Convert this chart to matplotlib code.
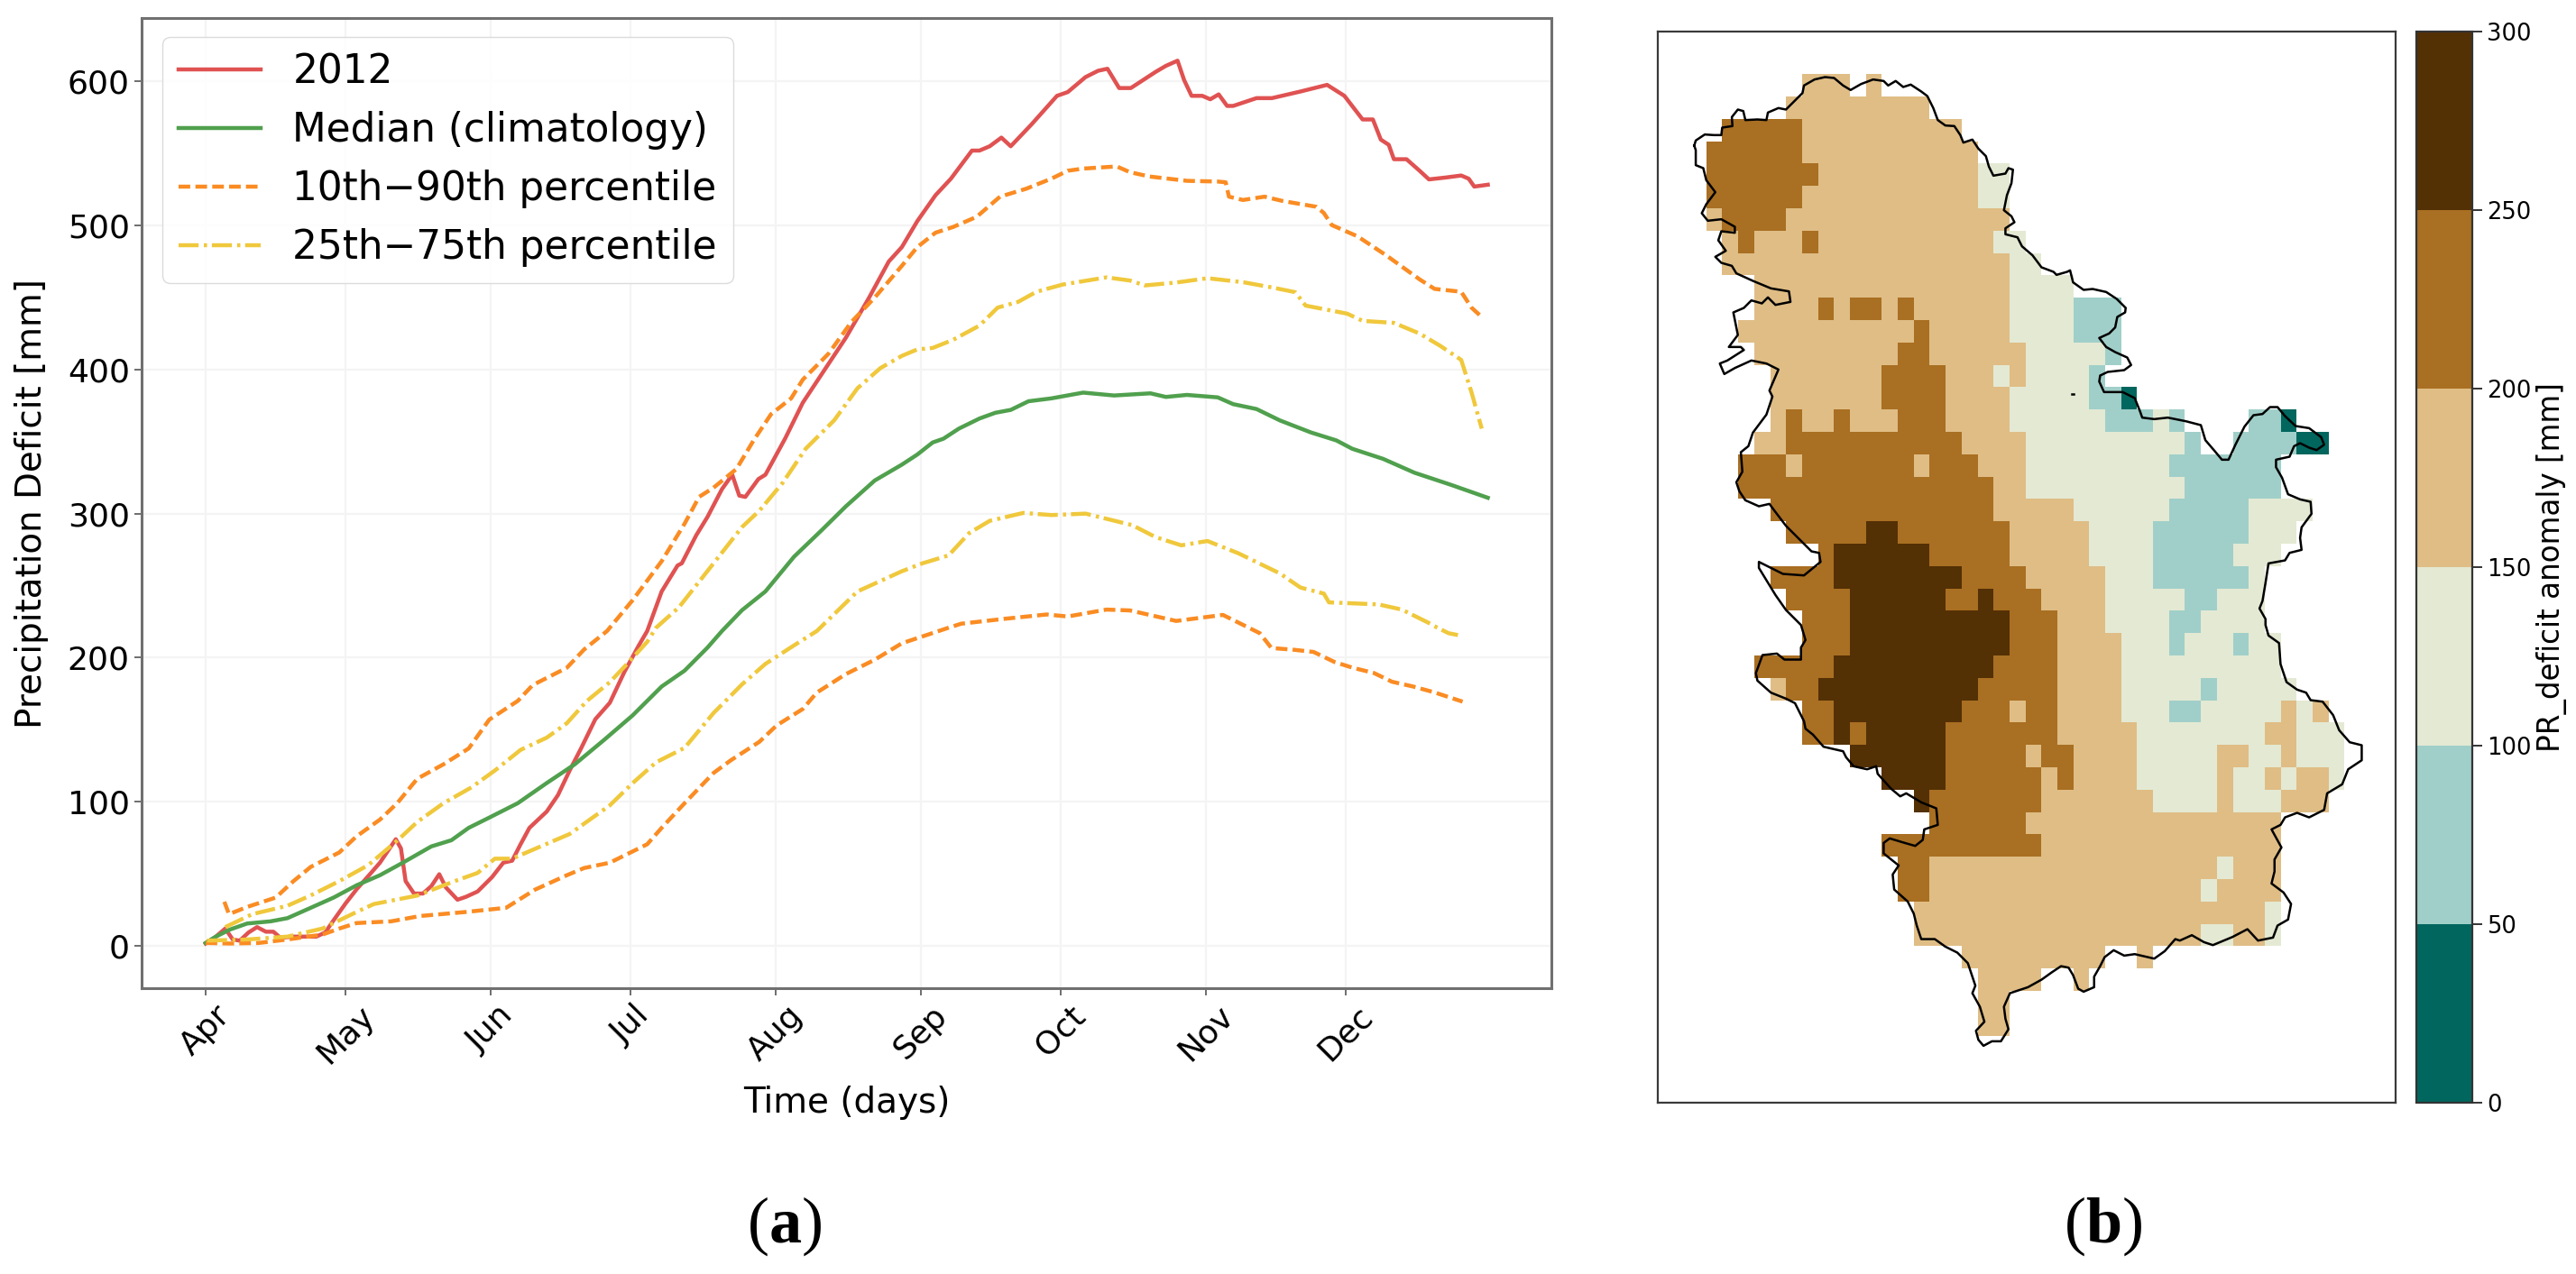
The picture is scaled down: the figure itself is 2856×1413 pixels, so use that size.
"""Precipitation deficit curves for 2012 and the map of the deficit anomaly."""
import numpy as np
import matplotlib
matplotlib.use('Agg')
import matplotlib.pyplot as plt
from matplotlib.colors import BoundaryNorm, ListedColormap

FIG_W, FIG_H = 2856, 1413

# panel (a): days since 1 April
month_days = [0, 30, 61, 91, 122, 153, 183, 214, 244]
month_names = ['Apr', 'May', 'Jun', 'Jul', 'Aug', 'Sep', 'Oct', 'Nov', 'Dec']

days_2012 = [0, 2.2, 4.2, 5.8, 7.3, 9.2, 11, 12.9, 14.5, 16, 18.8, 21.3, 23.7, 25.6, 27.4, 29.9, 32.3, 35.4, 37.3,
             40.7, 41.8, 42.8, 44.6, 46.5, 48.3, 50, 51.4, 53.9, 55.7, 58.2, 61.3, 63.7, 65.6, 67.4, 69.3, 73, 75.4,
             77.9, 80.4, 83.4, 86.5, 89.6, 92.7, 94.5, 97.6, 101, 101.9, 105, 107.4, 110.5, 112.7, 114.2, 115.5,
             118.3, 119.8, 124, 127.8, 132.7, 137, 142, 146.2, 149, 152.3, 156.2, 159.5, 164, 165.6, 167.8, 170.3,
             172.3, 176.7, 182.2, 184.5, 188.3, 191, 193, 195.5, 198, 203.3, 205.5, 208, 209.4, 211, 213.3, 215,
             216.8, 218.6, 219.9, 224.9, 228.2, 234.3, 240, 243.7, 247.6, 249.8, 251.5, 253.2, 254.3, 257, 259.8,
             261.8, 265.4, 268.7, 270.3, 271.5, 274.4]
deficit_2012 = [1.6, 6.4, 12, 4.4, 3.6, 9.3, 13, 9.8, 9.8, 5.6, 6.4, 6.4, 6.4, 9.3, 17.8, 29.2, 39.2, 50.6, 57.7,
                74, 67.6, 44.9, 36.3, 36.3, 41.4, 49.7, 40.6, 32, 34, 37.7, 47.7, 57.7, 59.1, 70.5, 81.9, 93.2, 104.6,
                121.7, 137.4, 157.3, 168.7, 190, 208.5, 218.5, 246, 264, 265.5, 285, 297.7, 317, 327, 312.5, 311.6,
                324, 327, 352, 377, 401, 422, 450, 475, 485, 503, 521, 532.5, 552, 552, 555, 561,
                555, 570, 590, 592.6, 603, 607.4, 608.8, 595.4, 595.4, 606.6, 610.8, 614.4, 601, 590, 590, 587.6,
                591, 583, 583, 588.4, 588.4, 593, 597.6, 590, 573.6, 573.6, 559.6, 556, 546, 546, 538,
                532, 533.3, 534.7, 532.5, 527, 528.3]

days_median = [0, 2.2, 5.2, 8.9, 13.9, 17.5, 22.5, 27.4, 32.3, 37.3, 42.2, 48.3, 52.6, 56.3, 60.7, 66.8, 73, 79,
               85.3, 91.4, 97.6, 102.5, 107.4, 110.5, 114.8, 119.8, 125.9, 132, 137, 143.2, 149, 152.3, 155.6, 157.9,
               161.2, 165.6, 169, 172.3, 176.1, 181, 187.8, 194.4, 202.2, 205.5, 210, 216.6, 219.9, 224.9, 229.9,
               236.5, 242, 245.4, 252, 258.7, 266.5, 274.4]
deficit_median = [2, 6.4, 11.3, 15.5, 17, 19.2, 26.4, 33.5, 42, 49, 57.7, 69, 73.3, 81.9, 89, 99, 113, 126,
                  143, 160, 180, 191, 207, 218.5, 233, 246, 270, 289, 305, 323, 334, 341, 349.4, 352,
                  359, 366, 370, 372, 378, 380, 384, 382, 383.5, 381, 382.4, 380.7, 376, 372.6, 364.7,
                  356.4, 350.8, 345, 338, 328.4, 320, 311]

days_p90 = [4, 5, 8.9, 15, 18.8, 22.5, 28.6, 32.3, 37.3, 41, 45.3, 50.9, 56.3, 60.7, 66.8, 70, 77.3, 81, 85.9, 91.4,
            97.6, 102.5, 105.6, 108.7, 113.6, 117.3, 121, 125.3, 127.8, 133.3, 138.2, 143.2, 149, 152.3, 156.2, 160,
            165, 170, 175.6, 181, 184.5, 187.8, 195, 197.8, 202, 210, 216.6, 218.3, 219, 222, 226.6, 230.5, 237.7,
            239.3, 241, 246.5, 252.6, 259.8, 263, 268.7, 270.9, 272.8]
deficit_p90 = [30.6, 22, 27, 33.5, 44.9, 54.8, 64.8, 76, 87.6, 99, 116, 126, 137, 157, 170, 181, 193, 205.7, 218.5, 240,
               267, 293, 311.6, 318, 331, 351, 369, 380, 393, 411, 433, 450, 472, 485, 495, 499,
               506, 520, 525.5, 532.5, 538, 539.5, 541, 537, 534, 531, 530.5, 530, 520, 517.7, 520, 517, 513,
               508.7, 500.3, 492.5, 479.4, 462.6, 456, 454, 443, 437.4]

days_p75 = [4.2, 10, 17.5, 22.5, 28.6, 34.8, 41, 45.3, 50.9, 56.9, 61.9, 67.4, 73, 77.3, 81.6, 86.5, 90.2, 94.5, 96.4,
            101.3, 108.7, 114.8, 118.5, 123.5, 128.4, 134.5, 139.5, 144.4, 149, 152.3, 155.6, 160, 165.6, 169.5,
            173.9, 177.8, 183.4, 192.8, 197.8, 201, 207.7, 214.4, 222.1, 228.2, 233.2, 235.4, 244.3, 247.6, 254.3,
            259.8, 264.2, 268.7, 270.9, 273.1]
deficit_p75 = [13, 22, 27.8, 35, 44.9, 56, 73, 86, 99, 110, 121.7, 136, 144.5, 154.5, 170, 183, 195.7, 211, 220.8,
               235, 265.5, 290.7, 302, 321.4, 345, 364.7, 387, 401, 409.5, 414, 415, 420.7, 430.5, 443,
               447, 454, 459, 464, 461.8, 458.4, 460.4, 463.4, 460.6, 457, 453.7, 444.4, 438.8, 433.8, 432.4,
               425, 416.5, 406.7, 384.3, 359]

days_p25 = [0.3, 8.9, 17.5, 25, 32.3, 36, 45.3, 53.3, 58.2, 61.9, 65.6, 71.7, 77.9, 86.5, 91.4, 96.4, 102.5, 108.7,
            114.8, 119.8, 125.9, 130.8, 139.5, 149, 153.4, 159, 163.4, 167.8, 175, 181, 188.3, 193.3, 198.3, 203.3,
            208.8, 214.4, 221, 229.9, 234.3, 239.3, 240.4, 251, 256, 261.6, 263.5, 266, 268]
deficit_p25 = [3.6, 4.4, 6.4, 12, 23.5, 29, 34.9, 44.9, 50.6, 60.5, 60.5, 69, 77.6, 97.5, 113, 127.4, 137.4, 161.6,
               181.5, 195.7, 208.5, 218.5, 246, 260, 265.5, 271, 286.5, 295, 300.5, 299, 300, 296, 292, 283.7,
               278, 281, 272.5, 258.5, 248.7, 244.5, 238.4, 237, 233.4, 224.4, 221, 217, 215.7]

days_p10 = [0, 5.2, 11.4, 17.5, 25, 28.6, 32.3, 39.7, 45.9, 55.7, 64.3, 70.5, 77.3, 81, 86.5, 94.5, 97.6, 102.5, 108.7,
            112.4, 118.5, 122.2, 127.8, 130.8, 137, 143.2, 149, 159, 161.7, 171, 180, 184.5, 192.8, 197.8, 207.7,
            217.7, 221, 225.6, 228.1, 232.6, 237.1, 241.6, 245.5, 250, 253.9, 258.4, 262.9, 269]
deficit_p10 = [2, 1.6, 2, 4.4, 7.8, 12, 15.8, 17, 20.7, 23.5, 26.4, 39, 49, 54, 57.7, 70.5, 81.9, 99, 120,
               128.8, 141.6, 153, 164.4, 175.8, 188.6, 198.6, 210, 220.8, 223.6, 227, 230, 228.6, 233.4, 232.8, 225.5,
               229.7, 224.4, 217, 206.7, 205.6, 204, 197, 193, 189.4, 183.3, 180, 176, 169.5]

# panel (b): anomaly class per 0.1 degree cell, (first col, last col, class) per row from the north
class_levels = [0, 50, 100, 150, 200, 250, 300]
class_colors = ['#01665e', '#a0cfc9', '#e4e9d3', '#dfbd85', '#a96f22', '#543005']
grid_lon0, grid_lat0 = 18.8, 46.2
anomaly_runs = [
    [(6, 8, 3), (10, 10, 3)],
    [(5, 13, 3)],
    [(1, 5, 4), (6, 15, 3)],
    [(0, 5, 4), (6, 16, 3)],
    [(0, 6, 4), (7, 16, 3), (17, 18, 2)],
    [(0, 5, 4), (6, 16, 3), (17, 18, 2)],
    [(0, 0, 3), (1, 4, 4), (5, 18, 3)],
    [(1, 1, 3), (2, 2, 4), (3, 5, 3), (6, 6, 4), (7, 17, 3), (18, 19, 2)],
    [(1, 18, 3), (19, 20, 2)],
    [(3, 18, 3), (19, 22, 2)],
    [(3, 6, 3), (7, 7, 4), (8, 8, 3), (9, 10, 4), (11, 11, 3), (12, 12, 4), (13, 18, 3), (19, 22, 2), (23, 25, 1)],
    [(2, 12, 3), (13, 13, 4), (14, 18, 3), (19, 22, 2), (23, 25, 1)],
    [(3, 11, 3), (12, 13, 4), (14, 19, 3), (20, 24, 2), (25, 25, 1)],
    [(4, 10, 3), (11, 14, 4), (15, 17, 3), (18, 18, 2), (19, 19, 3), (20, 23, 2), (24, 24, 1)],
    [(4, 10, 3), (11, 14, 4), (15, 18, 3), (19, 23, 2), (24, 25, 1), (26, 26, 0)],
    [(4, 4, 3), (5, 5, 4), (6, 7, 3), (8, 8, 4), (9, 11, 3), (12, 14, 4), (15, 18, 3), (19, 24, 2), (25, 27, 1),
     (28, 28, 2), (29, 29, 1), (34, 35, 1), (36, 36, 0)],
    [(3, 4, 3), (5, 15, 4), (16, 19, 3), (20, 29, 2), (30, 30, 1), (33, 36, 1), (37, 38, 0)],
    [(2, 4, 4), (5, 5, 3), (6, 12, 4), (13, 13, 3), (14, 16, 4), (17, 19, 3), (20, 28, 2), (29, 35, 1)],
    [(2, 17, 4), (18, 19, 3), (20, 29, 2), (30, 35, 1)],
    [(4, 17, 4), (18, 22, 3), (23, 28, 2), (29, 33, 1), (34, 37, 2)],
    [(5, 9, 4), (10, 11, 5), (12, 18, 4), (19, 23, 3), (24, 27, 2), (28, 33, 1), (34, 36, 2)],
    [(7, 7, 4), (8, 13, 5), (14, 18, 4), (19, 23, 3), (24, 27, 2), (28, 32, 1), (33, 35, 2)],
    [(4, 7, 4), (8, 15, 5), (16, 19, 4), (20, 24, 3), (25, 27, 2), (28, 33, 1), (34, 34, 2)],
    [(5, 8, 4), (9, 14, 5), (15, 16, 4), (17, 17, 5), (18, 20, 4), (21, 24, 3), (25, 29, 2), (30, 31, 1), (32, 34, 2)],
    [(6, 8, 4), (9, 18, 5), (19, 21, 4), (22, 24, 3), (25, 28, 2), (29, 30, 1), (31, 34, 2)],
    [(6, 8, 4), (9, 18, 5), (19, 21, 4), (22, 25, 3), (26, 28, 2), (29, 29, 1), (30, 32, 2), (33, 33, 1), (34, 35, 2)],
    [(3, 7, 4), (8, 17, 5), (18, 21, 4), (22, 25, 3), (26, 35, 2)],
    [(4, 4, 3), (5, 6, 4), (7, 16, 5), (17, 21, 4), (22, 25, 3), (26, 30, 2), (31, 31, 1), (32, 36, 2)],
    [(6, 7, 4), (8, 15, 5), (16, 18, 4), (19, 19, 3), (20, 21, 4), (22, 25, 3), (26, 28, 2), (29, 30, 1), (31, 35, 2),
     (36, 36, 3), (37, 37, 2), (38, 38, 3)],
    [(6, 7, 4), (8, 8, 5), (9, 9, 4), (10, 14, 5), (15, 21, 4), (22, 26, 3), (27, 34, 2), (35, 36, 3), (37, 39, 2)],
    [(9, 14, 5), (15, 19, 4), (20, 20, 3), (21, 22, 4), (23, 26, 3), (27, 31, 2), (32, 33, 3), (34, 35, 2),
     (36, 36, 3), (37, 39, 2)],
    [(11, 14, 5), (15, 20, 4), (21, 21, 3), (22, 22, 4), (23, 26, 3), (27, 31, 2), (32, 32, 3), (33, 34, 2),
     (35, 35, 3), (36, 36, 2), (37, 38, 3), (39, 39, 2)],
    [(13, 13, 5), (14, 20, 4), (21, 27, 3), (28, 31, 2), (32, 32, 3), (33, 35, 2), (36, 38, 3)],
    [(14, 19, 4), (20, 35, 3)],
    [(11, 20, 4), (21, 35, 3)],
    [(12, 13, 4), (14, 31, 3), (32, 32, 2), (33, 35, 3)],
    [(12, 13, 4), (14, 30, 3), (31, 31, 2), (32, 35, 3)],
    [(13, 34, 3), (35, 35, 2)],
    [(13, 30, 3), (31, 32, 2), (33, 34, 3), (35, 35, 2)],
    [(16, 24, 3), (27, 27, 3)],
    [(17, 20, 3), (23, 23, 3)],
    [(17, 18, 3)],
    [(17, 18, 3)],
]

# border digitised clockwise on enlarged crops: (crop origin in the scan, points at 3x)
border_north = ((1880, 70), [
    (-5, 275), (0, 258), (30, 238), (60, 240), (85, 240), (88, 215), (122, 210), (120, 180), (140, 155), (158, 160),
    (165, 190), (205, 188), (235, 190), (240, 165), (275, 150), (300, 155), (325, 130), (355, 100), (360, 75),
    (395, 55), (430, 47), (460, 50), (490, 75), (515, 90), (550, 70), (590, 55), (625, 60), (640, 75), (665, 60),
    (690, 80), (715, 72), (750, 95), (770, 110), (790, 150), (805, 190), (830, 208), (860, 210), (880, 240),
    (890, 265), (920, 255), (940, 285), (965, 310), (975, 345), (990, 375), (1030, 368), (1040, 350), (1055, 355),
    (1050, 400), (1035, 440), (1025, 490), (1050, 510), (1060, 530), (1030, 550), (1030, 570), (1070, 580),
    (1085, 610), (1120, 640), (1150, 680), (1190, 695)])
border_east = ((2230, 300), [
    (150, 15), (185, 5), (195, 0), (205, 40), (240, 65), (270, 62), (315, 72), (350, 95), (380, 125), (378, 140),
    (352, 155), (345, 190), (325, 210), (292, 225), (315, 255), (345, 272), (385, 290), (398, 315), (375, 332),
    (320, 338), (295, 350), (292, 370), (308, 405), (370, 405), (410, 425), (428, 470), (435, 490), (475, 495),
    (520, 490), (580, 502), (630, 515), (645, 565), (675, 600), (700, 630), (722, 630), (745, 580), (775, 520),
    (805, 482), (835, 478), (860, 455), (885, 455), (910, 485), (945, 518), (990, 525), (1030, 555), (1040, 580),
    (1015, 598), (990, 590), (960, 575), (940, 585), (925, 620), (880, 630), (880, 655), (900, 690), (920, 745),
    (960, 762), (995, 770), (998, 810), (965, 855), (960, 890), (965, 930), (925, 940), (910, 965), (855, 975),
    (845, 1040), (835, 1100), (825, 1125), (845, 1160)])
border_southeast = ((2280, 680), [
    (695, 40), (705, 75), (740, 100), (745, 170), (765, 230), (800, 255), (830, 265), (845, 290), (885, 295),
    (920, 340), (940, 390), (975, 430), (1015, 440), (1015, 490), (970, 520), (950, 570), (900, 600), (890, 655),
    (840, 680), (800, 665), (760, 680), (745, 705), (715, 720), (748, 780), (725, 820), (725, 860), (715, 900),
    (755, 930), (780, 968), (770, 1020), (735, 1040), (720, 1080), (670, 1090), (635, 1052), (585, 1078), (520, 1105),
    (490, 1095), (450, 1072), (410, 1090), (395, 1085), (360, 1125), (325, 1150), (260, 1135), (225, 1140),
    (190, 1122), (160, 1145), (145, 1175)])
border_south = ((2000, 800), [
    (965, 850), (965, 885), (930, 900), (912, 890), (895, 845), (880, 820), (855, 815), (825, 835), (790, 860),
    (745, 885), (685, 905), (665, 950), (670, 990), (680, 1025), (655, 1065), (625, 1065), (597, 1080), (580, 1060),
    (572, 1030), (600, 1000), (585, 950), (560, 905), (570, 880), (545, 805), (510, 770), (470, 750), (435, 725),
    (390, 725), (375, 680), (365, 640), (345, 600), (300, 560), (295, 510), (315, 480), (265, 440), (265, 405),
    (285, 390), (335, 405), (370, 415), (395, 395), (400, 360), (445, 345), (440, 290), (390, 270), (340, 240),
    (320, 250), (290, 225), (245, 175), (240, 150), (210, 160), (165, 150), (140, 120), (130, 100), (65, 85),
    (30, 45), (5, 25)])
border_west = ((1880, 460), [
    (360, 1020), (330, 960), (300, 945), (250, 925), (205, 885), (200, 860), (222, 800), (270, 795), (295, 815),
    (350, 815), (350, 775), (365, 750), (350, 700), (300, 650), (265, 600), (210, 510), (210, 490), (250, 510),
    (290, 530), (360, 535), (415, 490), (410, 460), (385, 455), (340, 410), (300, 370), (262, 320), (245, 297),
    (210, 305), (165, 285), (145, 255), (135, 225), (155, 190), (150, 125), (175, 105), (190, 60)])
border_northwest = ((1880, 70), [
    (235, 1170), (255, 1110), (245, 1090), (275, 1020), (235, 1000), (185, 990), (130, 1015), (95, 1035), (80, 1000),
    (105, 990), (160, 955), (150, 945), (110, 945), (140, 905), (125, 830), (160, 815), (185, 790), (220, 800),
    (240, 780), (265, 805), (315, 795), (310, 760), (250, 750), (190, 725), (135, 700), (120, 675), (85, 665),
    (65, 645), (100, 625), (75, 590), (85, 560), (130, 565), (130, 545), (85, 520), (40, 525), (20, 500), (35, 470),
    (65, 430), (35, 390), (25, 350), (0, 340), (0, 290), (-5, 275)])
border_parts = [border_north, border_east, border_southeast, border_south, border_west, border_northwest]
islet = ((2230, 300), [(200, 412), (208, 412)])


def to_lonlat(part):
    (ox, oy), pts = part
    pts = np.array(pts, dtype=float)
    lon = grid_lon0 + (ox + pts[:, 0] / 3 - 1891.7) / 176.9
    lat = grid_lat0 - (oy + pts[:, 1] / 3 - 82.3) / 248.0
    return lon, lat


def add_axes_px(fig, left, top, right, bottom):
    """Axes from pixel edges of the figure."""
    return fig.add_axes([left / FIG_W, 1 - bottom / FIG_H, (right - left) / FIG_W, (bottom - top) / FIG_H])


plt.rcParams['font.family'] = 'DejaVu Sans'
plt.rcParams['mathtext.fontset'] = 'custom'
plt.rcParams['mathtext.bf'] = 'Liberation Serif:bold'
plt.rcParams['mathtext.rm'] = 'Liberation Serif'

fig = plt.figure(figsize=(FIG_W / 100, FIG_H / 100), dpi=100)

# curves
ax = add_axes_px(fig, 157, 20, 1720, 1096)
line_w = 3.2
dashed = (0, (2.9, 1.3))
dash_dot = (0, (5, 1.3, 0.8, 1.2))
ax.plot(days_2012, deficit_2012, color='#e05252', lw=line_w, label='2012')
ax.plot(days_median, deficit_median, color='#50a04e', lw=line_w, label='Median (climatology)')
ax.plot(days_p90, deficit_p90, color='#fa8c23', lw=line_w, ls=dashed, label='10th\u221290th percentile')
ax.plot(days_p10, deficit_p10, color='#fa8c23', lw=line_w, ls=dashed)
ax.plot(days_p75, deficit_p75, color='#f0c83c', lw=line_w, ls=dash_dot, label='25th\u221275th percentile')
ax.plot(days_p25, deficit_p25, color='#f0c83c', lw=line_w, ls=dash_dot)
ax.set_xlim(-13.7, 288)
ax.set_ylim(-29.4, 644)
ax.set_xticks(month_days)
ax.set_xticklabels(month_names, rotation=45)
ax.set_yticks(range(0, 601, 100))
ax.tick_params(axis='both', labelsize=26, length=6, width=1.2, color='#555555')
ax.grid(True, color='#f4f4f4', lw=1.6)
ax.set_axisbelow(True)
ax.set_xlabel('Time (days)', fontsize=28, va='center')
ax.set_ylabel('Precipitation Deficit [mm]', fontsize=28, va='center')
ax.xaxis.set_label_coords(0.5, -0.118)
ax.yaxis.set_label_coords(-0.078, 0.5)
for spine in ax.spines.values():
    spine.set_color('#707070')
    spine.set_linewidth(2.2)
ax.legend(loc='upper left', bbox_to_anchor=(23 / 1563, 1 - 21 / 1076), borderaxespad=0, fontsize=31.5,
          edgecolor='#d8d8d8', framealpha=0.9, handlelength=2.1)

# map
anomaly_class = np.full((len(anomaly_runs), 40), np.nan)
for row, runs in enumerate(anomaly_runs):
    for first, last, cls in runs:
        anomaly_class[row, first:last + 1] = class_levels[cls] + 25

lon_edges = grid_lon0 + 0.1 * np.arange(anomaly_class.shape[1] + 1)
lat_edges = grid_lat0 - 0.1 * np.arange(anomaly_class.shape[0] + 1)
cmap = ListedColormap(class_colors)
norm = BoundaryNorm(class_levels, cmap.N)

ax_map = add_axes_px(fig, 1838, 35, 2656, 1223)
mesh = ax_map.pcolormesh(lon_edges, lat_edges, anomaly_class, cmap=cmap, norm=norm, antialiased=False)
lons, lats = zip(*[to_lonlat(part) for part in border_parts])
ax_map.plot(np.concatenate(lons), np.concatenate(lats), color='black', lw=1.8)
ax_map.plot(*to_lonlat(islet), color='black', lw=1.8)
ax_map.set_xlim(18.496, 23.12)
ax_map.set_ylim(41.6, 46.39)
ax_map.set_xticks([])
ax_map.set_yticks([])
for spine in ax_map.spines.values():
    spine.set_color('#3a3a3a')
    spine.set_linewidth(1.6)

cax = add_axes_px(fig, 2679, 35, 2741, 1223)
cbar = fig.colorbar(mesh, cax=cax, ticks=class_levels)
cbar.ax.tick_params(labelsize=18.5, length=8, width=1.4, color='#333333')
cbar.outline.set_edgecolor('#333333')
cbar.outline.set_linewidth(1.6)
cbar.set_label('PR_deficit anomaly [mm]', fontsize=23.5)

fig.text(870 / FIG_W, 1 - 1360 / FIG_H, r'($\mathbf{a}$)', family='Liberation Serif', fontsize=52,
         ha='center', va='center')
fig.text(2332 / FIG_W, 1 - 1360 / FIG_H, r'($\mathbf{b}$)', family='Liberation Serif', fontsize=52,
         ha='center', va='center')

fig.savefig('out.png', dpi=100)
plt.close(fig)
